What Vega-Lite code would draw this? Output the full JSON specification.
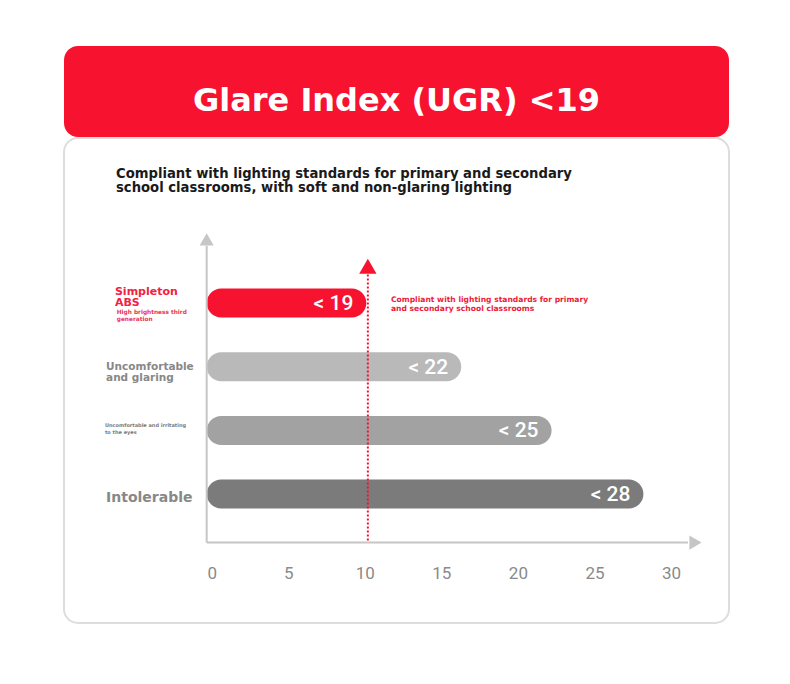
{
  "$schema": "https://vega.github.io/schema/vega-lite/v6.json",
  "background": "#ffffff",
  "padding": {"left": 63, "top": 46, "right": 62, "bottom": 62},
  "spacing": 0,
  "config": {"view": {"stroke": null}, "concat": {"spacing": 0}},
  "vconcat": [
    {
      "width": 665,
      "height": 91,
      "view": {"fill": "#f7132f", "stroke": null, "cornerRadius": 14},
      "data": {"values": [{"title": "Glare Index (UGR) <19"}]},
      "mark": {"type": "text", "color": "#ffffff", "font": "DejaVu Sans", "fontWeight": "bold", "fontSize": 32, "baseline": "middle", "dy": 9},
      "encoding": {"text": {"field": "title", "type": "nominal"}}
    },
    {
      "width": 665,
      "height": 485,
      "view": {"fill": "#ffffff", "stroke": "#dddddd", "strokeWidth": 2, "cornerRadius": 14},
      "title": {
        "text": ["Compliant with lighting standards for primary and secondary", "school classrooms, with soft and non-glaring lighting"],
        "anchor": "start", "frame": "group", "orient": "top",
        "offset": -57, "dx": 52, "font": "DejaVu Sans", "fontWeight": "bold", "fontSize": 13.2, "lineHeight": 13.5, "color": "#1a1a1a"
      },
      "data": {"values": [
        {"category": "Simpleton ABS", "rank": 1, "ugr": "< 19", "length": 10.1, "label": "Simpleton\n ABS", "note": "High brightness third\ngeneration"},
        {"category": "Uncomfortable and glaring", "rank": 2, "ugr": "< 22", "length": 16.3, "label": "Uncomfortable\n and glaring", "note": ""},
        {"category": "Uncomfortable and irritating to the eyes", "rank": 3, "ugr": "< 25", "length": 22.2, "label": "Uncomfortable and irritating\n to the eyes", "note": ""},
        {"category": "Intolerable", "rank": 4, "ugr": "< 28", "length": 28.2, "label": "Intolerable", "note": ""}
      ]},
      "layer": [
        {
          "mark": {"type": "bar", "orient": "horizontal", "height": 29, "cornerRadiusEnd": 14.5},
          "encoding": {
            "x": {"field": "length", "type": "quantitative",
                  "scale": {"domain": [-9.647, 33.79], "nice": false, "zero": false},
                  "axis": {"values": [0, 5, 10, 15, 20, 25, 30], "orient": "bottom", "offset": -58, "domain": false, "ticks": false, "tickSize": 0, "grid": false, "labelPadding": 0, "labelFont": "Roboto", "labelFontSize": 17, "labelColor": "#8a8a8a", "title": null, "labelFlush": false}},
            "x2": {"datum": -0.327},
            "y": {"field": "rank", "type": "quantitative",
                  "scale": {"domain": [-1.515, 5.946], "reverse": true, "nice": false, "zero": false}, "axis": null},
            "color": {"field": "category", "type": "nominal",
                      "scale": {"domain": ["Simpleton ABS", "Uncomfortable and glaring", "Uncomfortable and irritating to the eyes", "Intolerable"],
                                "range": ["#f7132f", "#b9b9b9", "#a2a2a2", "#7b7b7b"]},
                      "legend": null}
          }
        },
        {
          "mark": {"type": "text", "align": "right", "baseline": "middle", "dx": -13, "dy": 1, "font": "Roboto", "fontSize": 21, "fontWeight": 500, "color": "#ffffff"},
          "encoding": {
            "x": {"field": "length", "type": "quantitative"},
            "y": {"field": "rank", "type": "quantitative"},
            "text": {"field": "ugr", "type": "nominal"}
          }
        },
        {
          "transform": [{"filter": "datum.rank == 1"}],
          "mark": {"type": "text", "align": "left", "baseline": "alphabetic", "dy": -8.5, "lineBreak": "\n", "lineHeight": 11.5, "font": "DejaVu Sans", "fontWeight": "bold", "fontSize": 11, "color": "#f2213f"},
          "encoding": {
            "x": {"datum": -6.32, "type": "quantitative"},
            "y": {"field": "rank", "type": "quantitative"},
            "text": {"field": "label", "type": "nominal"}
          }
        },
        {
          "transform": [{"filter": "datum.rank == 1"}],
          "mark": {"type": "text", "align": "left", "baseline": "alphabetic", "dy": 10.5, "lineBreak": "\n", "lineHeight": 7.2, "font": "DejaVu Sans", "fontWeight": "bold", "fontSize": 5.8, "color": "#ea3550"},
          "encoding": {
            "x": {"datum": -6.2, "type": "quantitative"},
            "y": {"field": "rank", "type": "quantitative"},
            "text": {"field": "note", "type": "nominal"}
          }
        },
        {
          "transform": [{"filter": "datum.rank == 2"}],
          "mark": {"type": "text", "align": "left", "baseline": "alphabetic", "dy": 3.5, "lineBreak": "\n", "lineHeight": 10.5, "font": "DejaVu Sans", "fontWeight": "bold", "fontSize": 10.5, "color": "#888888"},
          "encoding": {
            "x": {"datum": -6.9, "type": "quantitative"},
            "y": {"field": "rank", "type": "quantitative"},
            "text": {"field": "label", "type": "nominal"}
          }
        },
        {
          "transform": [{"filter": "datum.rank == 3"}],
          "mark": {"type": "text", "align": "left", "baseline": "alphabetic", "dy": -3.5, "lineBreak": "\n", "lineHeight": 7, "font": "DejaVu Sans", "fontWeight": "bold", "fontSize": 5, "color": "#7a7a7a"},
          "encoding": {
            "x": {"datum": -6.97, "type": "quantitative"},
            "y": {"field": "rank", "type": "quantitative"},
            "text": {"field": "label", "type": "nominal"}
          }
        },
        {
          "transform": [{"filter": "datum.rank == 4"}],
          "mark": {"type": "text", "align": "left", "baseline": "alphabetic", "dy": 7.5, "font": "DejaVu Sans", "fontWeight": "bold", "fontSize": 14, "color": "#888888"},
          "encoding": {
            "x": {"datum": -6.9, "type": "quantitative"},
            "y": {"field": "rank", "type": "quantitative"},
            "text": {"field": "label", "type": "nominal"}
          }
        },
        {
          "data": {"values": [{"rank": 1, "text": "Compliant with lighting standards for primary\n and secondary school classrooms"}]},
          "mark": {"type": "text", "align": "left", "baseline": "alphabetic", "dy": -1, "lineBreak": "\n", "lineHeight": 8.5, "font": "DejaVu Sans", "fontWeight": "bold", "fontSize": 7.6, "color": "#ee1b3a"},
          "encoding": {
            "x": {"datum": 11.71, "type": "quantitative"},
            "y": {"field": "rank", "type": "quantitative"},
            "text": {"field": "text", "type": "nominal"}
          }
        },
        {
          "data": {"values": [{"limit": 10.2}]},
          "mark": {"type": "rule", "color": "#f7132f", "strokeWidth": 2, "strokeDash": [2, 2]},
          "encoding": {
            "x": {"field": "limit", "type": "quantitative"},
            "y": {"datum": 0.55, "type": "quantitative"},
            "y2": {"datum": 4.762}
          }
        },
        {
          "data": {"values": [{"limit": 10.2}]},
          "mark": {"type": "point", "shape": "triangle-up", "filled": true, "size": 300, "color": "#f7132f", "opacity": 1},
          "encoding": {
            "x": {"field": "limit", "type": "quantitative"},
            "y": {"datum": 0.42, "type": "quantitative"}
          }
        },
        {
          "data": {"values": [{}]},
          "mark": {"type": "rule", "color": "#c6c6c6", "strokeWidth": 2},
          "encoding": {
            "x": {"datum": -0.327, "type": "quantitative"},
            "y": {"datum": 0.1, "type": "quantitative"},
            "y2": {"datum": 4.762}
          }
        },
        {
          "data": {"values": [{}]},
          "mark": {"type": "rule", "color": "#c6c6c6", "strokeWidth": 2},
          "encoding": {
            "x": {"datum": -0.327, "type": "quantitative"},
            "x2": {"datum": 31.11},
            "y": {"datum": 4.762, "type": "quantitative"}
          }
        },
        {
          "data": {"values": [{}]},
          "mark": {"type": "point", "shape": "triangle-up", "filled": true, "size": 200, "color": "#c6c6c6", "opacity": 1},
          "encoding": {
            "x": {"datum": -0.327, "type": "quantitative"},
            "y": {"datum": 0.0, "type": "quantitative"}
          }
        },
        {
          "data": {"values": [{}]},
          "mark": {"type": "point", "shape": "triangle-right", "filled": true, "size": 200, "color": "#c6c6c6", "opacity": 1},
          "encoding": {
            "x": {"datum": 31.6, "type": "quantitative"},
            "y": {"datum": 4.762, "type": "quantitative"}
          }
        }
      ]
    }
  ]
}
